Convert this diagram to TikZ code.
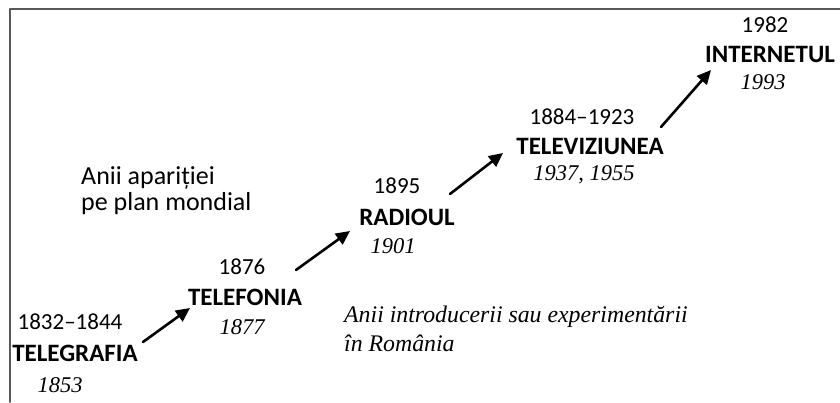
\documentclass[tikz,border=0pt]{standalone}
\usepackage{fontspec}
\setmainfont{Carlito}
\newfontfamily\roserif{Liberation Serif}
\usetikzlibrary{arrows.meta}

\tikzset{
  anmondial/.style={font=\fontsize{23}{25}\selectfont, inner sep=0pt},
  domeniu/.style={font=\fontsize{25}{27}\selectfont\bfseries, inner sep=0pt},
  anromania/.style={font=\fontsize{22.5}{24}\selectfont\roserif\itshape, inner sep=0pt},
  sageata/.style={line width=2.6pt, -{Triangle[length=14pt,width=13pt]}},
}

\begin{document}
\begin{tikzpicture}[x=1pt,y=1pt,line cap=round,line join=round]
\useasboundingbox (0,0) rectangle (840,402);
% chenar
\draw[line width=2pt, black!65] (10,0) -- (10,393) -- (840,393);
% etapele
\node[anmondial] (y1832) at (70,80) {1832--1844};
\node[domeniu] (telegrafia) at (75,49) {TELEGRAFIA};
\node[anromania] (r1853) at (60,17) {1853};
\node[anmondial] (y1876) at (242,135) {1876};
\node[domeniu] (telefonia) at (245,105) {TELEFONIA};
\node[anromania] (r1877) at (242,75) {1877};
\node[anmondial] (y1895) at (397,216) {1895};
\node[domeniu] (radioul) at (407,185) {RADIOUL};
\node[anromania] (r1901) at (393,156) {1901};
\node[anmondial] (y1884) at (582,285) {1884--1923};
\node[domeniu] (televiziunea) at (590,256) {TELEVIZIUNEA};
\node[anromania] (r1937) at (584,227) {1937, 1955};
\node[anmondial] (y1982) at (765,377) {1982};
\node[domeniu] (internetul) at (770,348) {INTERNETUL};
\node[anromania] (r1993) at (763,320) {1993};
% legenda
\node[anmondial, font=\fontsize{26}{26}\selectfont, align=left, anchor=north west] (mondial) at (81,236) {Anii apariției\\pe plan mondial};
\node[anromania, font=\fontsize{23.8}{29}\selectfont\roserif\itshape, align=left, anchor=north west] (romania) at (344,96) {Anii introducerii sau experimentării\\în România};
% sageti
\coordinate (s1) at (143,60);  \coordinate (e1) at (190,94);
\coordinate (s2) at (296,132); \coordinate (e2) at (350,171);
\coordinate (s3) at (450,208); \coordinate (e3) at (503,249);
\coordinate (s4) at (661,275); \coordinate (e4) at (711,332);
\draw[sageata] (s1) -- (e1);
\draw[sageata] (s2) -- (e2);
\draw[sageata] (s3) -- (e3);
\draw[sageata] (s4) -- (e4);
\end{tikzpicture}
\end{document}
